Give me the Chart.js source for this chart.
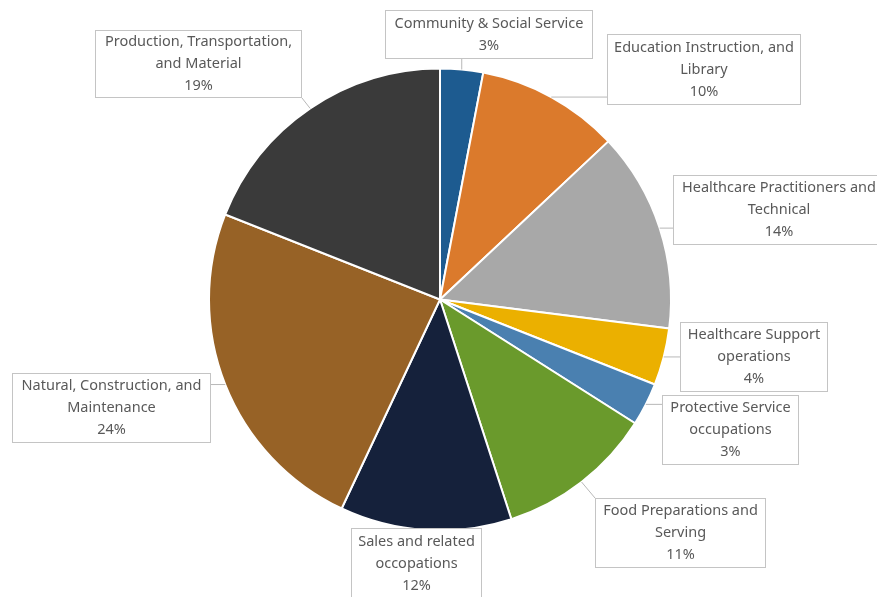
<!DOCTYPE html>
<html>
<head>
<meta charset="utf-8">
<script src="https://cdn.jsdelivr.net/npm/chart.js@4.4.0/dist/chart.umd.min.js"></script>
<style>
  html, body { margin: 0; padding: 0; background: #fff; }
  #wrap { width: 877px; height: 597px; position: relative; }
</style>
</head>
<body>
<div id="wrap"><canvas id="jobsChart"></canvas></div>
<script>
// occupation groups, clockwise from 12 o'clock
const categories = [
  ["Community & Social Service"],
  ["Education Instruction, and", "Library"],
  ["Healthcare Practitioners and", "Technical"],
  ["Healthcare Support", "operations"],
  ["Protective Service", "occupations"],
  ["Food Preparations and", "Serving"],
  ["Sales and related", "occopations"],
  ["Natural, Construction, and", "Maintenance"],
  ["Production, Transportation,", "and Material"],
];
const shares = [3, 10, 14, 4, 3, 11, 12, 24, 19];
const sliceColors = [
  "#1d5b90", "#db7a2c", "#a8a8a8", "#ebb000", "#4a80b0",
  "#6a9a2c", "#15213b", "#976226", "#3a3a3a",
];

// callout boxes: x, y, w, h
const boxes = [
  [385, 10, 208, 49],
  [607, 34, 194, 71],
  [673, 175, 212, 70],
  [680, 322, 148, 70],
  [662, 395, 137, 70],
  [595, 498, 171, 70],
  [351, 528, 131, 72],
  [12, 373, 199, 70],
  [95, 30, 207, 68],
];

const calloutPlugin = {
  id: "callouts",
  afterDatasetsDraw(chart) {
    const ctx = chart.ctx;
    const arcs = chart.getDatasetMeta(0).data;
    ctx.save();
    arcs.forEach((arc, i) => {
      const [bx, by, bw, bh] = boxes[i];
      const mid = (arc.startAngle + arc.endAngle) / 2;
      const ax = arc.x + Math.cos(mid) * arc.outerRadius;
      const ay = arc.y + Math.sin(mid) * arc.outerRadius;
      // leader line to the nearest point on the box
      const px = Math.min(Math.max(ax, bx), bx + bw);
      const py = Math.min(Math.max(ay, by), by + bh);
      ctx.strokeStyle = "#b8b8b8";
      ctx.lineWidth = 1;
      if (Math.hypot(px - ax, py - ay) > 3) {
        ctx.beginPath();
        ctx.moveTo(ax, ay);
        ctx.lineTo(px, py);
        ctx.stroke();
      }
      ctx.fillStyle = "#ffffff";
      ctx.fillRect(bx, by, bw, bh);
      ctx.strokeStyle = "#c4c4c4";
      ctx.strokeRect(bx + 0.5, by + 0.5, bw - 1, bh - 1);

      const lines = categories[i].concat([shares[i] + "%"]);
      ctx.fillStyle = "#595959";
      ctx.font = "14.5px 'Noto Sans'";
      ctx.textAlign = "center";
      ctx.textBaseline = "middle";
      const lh = 22;
      const top = by + bh / 2 - (lines.length - 1) * lh / 2;
      lines.forEach((t, k) => {
        ctx.fillText(t, bx + bw / 2, top + k * lh);
      });
    });
    ctx.restore();
  },
};

const ctx = document.getElementById("jobsChart").getContext("2d");
new Chart(ctx, {
  type: "pie",
  data: {
    labels: categories,
    datasets: [
      {
        data: shares,
        backgroundColor: sliceColors,
        borderColor: "#ffffff",
        borderWidth: 2,
      },
    ],
  },
  options: {
    responsive: true,
    maintainAspectRatio: false,
    animation: false,
    layout: { padding: { left: 208, right: 205, top: 67, bottom: 65 } },
    plugins: {
      legend: { display: false },
      tooltip: { enabled: false },
    },
  },
  plugins: [calloutPlugin],
});
</script>
</body>
</html>
